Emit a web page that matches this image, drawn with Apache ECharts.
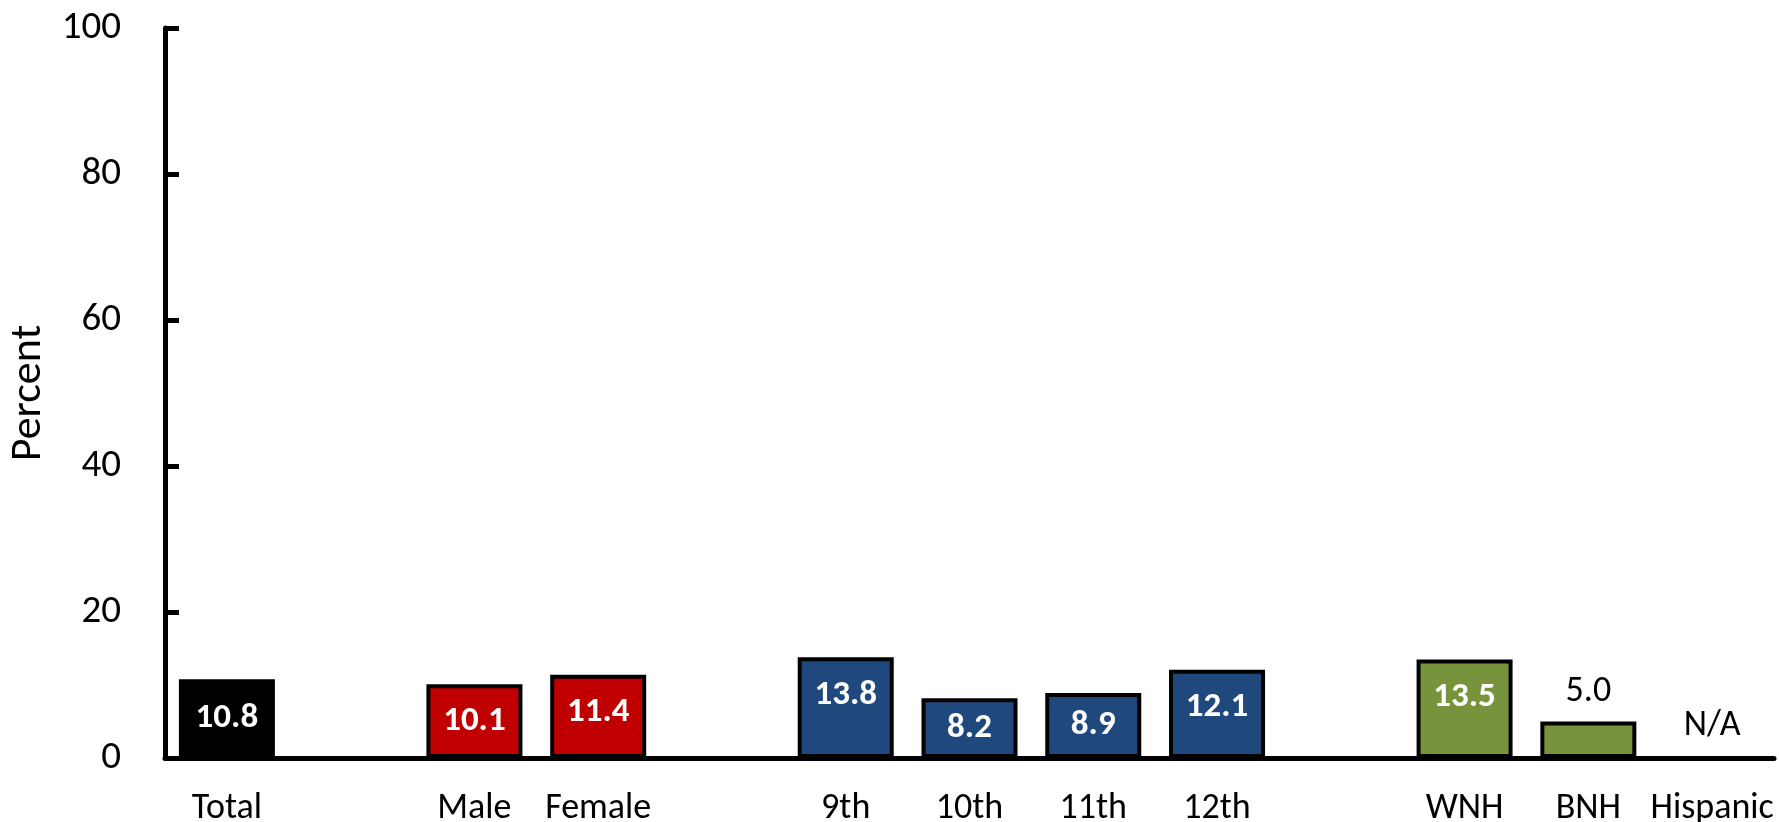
<!DOCTYPE html>
<html>
<head>
<meta charset="utf-8">
<script src="https://cdn.jsdelivr.net/npm/echarts@6/dist/echarts.min.js"></script>
<style>
html,body{margin:0;padding:0;background:#fff;}
#chart{width:1779px;height:822px;}
</style>
</head>
<body>
<div id="chart"></div>
<script>
// Data
const categories = ['Total', '', 'Male', 'Female', '', '9th', '10th', '11th', '12th', '', 'WNH', 'BNH', 'Hispanic'];
const values = [10.8, null, 10.1, 11.4, null, 13.8, 8.2, 8.9, 12.1, null, 13.5, 5.0, null];
const groups = ['total', null, 'sex', 'sex', null, 'grade', 'grade', 'grade', 'grade', null, 'race', 'race', 'race'];
const yTicks = [0, 20, 40, 60, 80, 100];
const naText = 'N/A';
const yAxisName = 'Percent';

const groupColors = { total: '#000000', sex: '#C00000', grade: '#1F497D', race: '#77933C' };

// choose a Calibri-like font that is installed
const cvs = document.createElement('canvas').getContext('2d');
function w(font, txt) { cvs.font = font; return cvs.measureText(txt).width; }
function has(fam) {
  const t = 'Hispanic 10.1 Percent';
  return w("100px '" + fam + "', monospace", t) !== w('100px monospace', t) ||
         w("100px '" + fam + "', serif", t) !== w('100px serif', t);
}
const candidates = ['Carlito', 'Lato', 'Open Sans', 'Liberation Sans'];
let fam = 'Liberation Sans';
for (const c of candidates) { if (has(c)) { fam = c; break; } }
const FONT = "'" + fam + "', sans-serif";
function fit(txt, target, bold) {
  const m = w((bold ? 'bold ' : '') + "100px " + FONT, txt);
  return Math.round(target * 100 / m);
}
const catSize = fit('Hispanic', 122, false);
const tickSize = fit('100', 59, false);
const lblSize = fit('10.1', 63, true);
const totalSize = fit('10.8', 62, true);
const valSize = fit('5.0', 45, false);
const nameSize = fit('Percent', 136, false);

const data = values.map((v, i) => {
  const g = groups[i];
  if (g === null) return null;
  if (v === null) {
    return {
      value: 0,
      itemStyle: { color: 'rgba(0,0,0,0)', borderWidth: 0 },
      label: { show: true, position: 'top', distance: 14, formatter: naText, color: '#000', fontWeight: 'normal', fontFamily: FONT, fontSize: valSize }
    };
  }
  const item = { value: v, itemStyle: { color: groupColors[g] } };
  if (g === 'total') {
    item.itemStyle.borderWidth = 0;
    item.label = { show: true, position: 'inside', color: '#fff', fontWeight: 'bold', fontFamily: FONT, fontSize: totalSize };
  } else if (v < 8) {
    item.label = { show: true, position: 'top', distance: 12, color: '#000', fontWeight: 'normal', fontFamily: FONT, fontSize: valSize };
  } else if (v < 10.5) {
    item.label = { show: true, position: 'inside', color: '#fff', fontWeight: 'bold', fontFamily: FONT, fontSize: lblSize };
  } else {
    item.label = { show: true, position: 'insideTop', distance: 20, color: '#fff', fontWeight: 'bold', fontFamily: FONT, fontSize: lblSize };
  }
  return item;
});

const chart = echarts.init(document.getElementById('chart'));
chart.setOption({
  animation: false,
  backgroundColor: '#fff',
  grid: { left: 165, right: 5, top: 28, bottom: 64, containLabel: false, outerBoundsMode: 'none' },
  xAxis: {
    type: 'category',
    data: categories,
    axisLine: { show: true, lineStyle: { color: '#000', width: 5 } },
    axisTick: { show: false },
    axisLabel: { interval: 0, margin: 33, color: '#000', fontFamily: FONT, fontSize: catSize }
  },
  yAxis: {
    type: 'value',
    min: yTicks[0],
    max: yTicks[yTicks.length - 1],
    interval: 20,
    name: yAxisName,
    nameLocation: 'middle',
    nameRotate: 90,
    nameGap: Math.round(165 - 29 - nameSize / 2),
    nameTextStyle: { color: '#000', fontFamily: FONT, fontSize: nameSize },
    axisLine: { show: true, lineStyle: { color: '#000', width: 5 } },
    axisTick: { show: true, inside: true, length: 14, lineStyle: { color: '#000', width: 5 } },
    axisLabel: { margin: 44, color: '#000', fontFamily: FONT, fontSize: tickSize },
    splitLine: { show: false }
  },
  series: [{
    type: 'bar',
    data: data,
    barWidth: 96,
    itemStyle: { borderColor: '#000', borderWidth: 4 },
    label: { show: true, formatter: p => (p.data && p.data.label && p.data.label.formatter) ? p.data.label.formatter : Number(p.value).toFixed(1) }
  }]
});
</script>
</body>
</html>
